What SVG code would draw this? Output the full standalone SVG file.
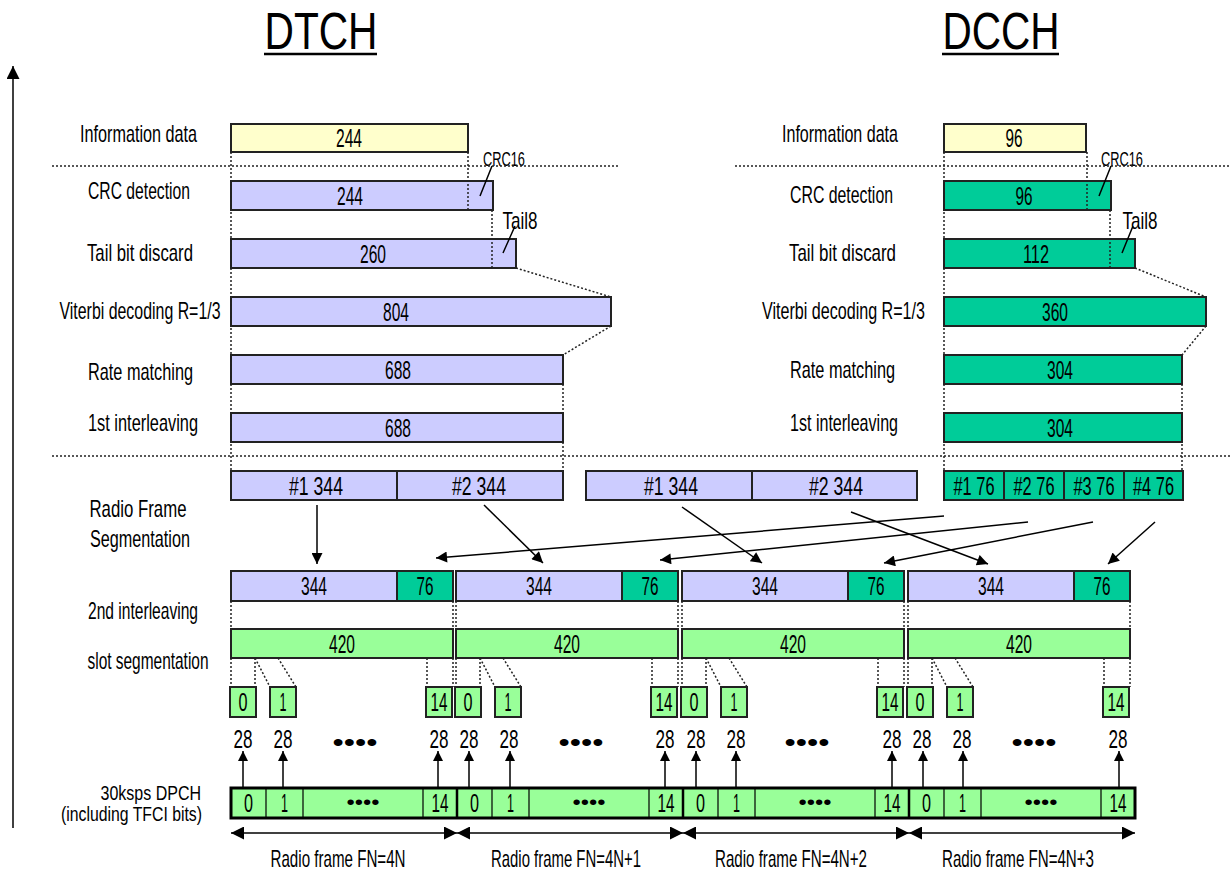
<svg xmlns="http://www.w3.org/2000/svg" width="1231" height="875" viewBox="0 0 1231 875">
<style>
text{font-family:"Liberation Sans",Arial,sans-serif;fill:#000;text-anchor:middle}
.lbl{font-size:24px}
.lb2{font-size:20px}
.num{font-size:25px}
.sm{font-size:20px}
.dt{font-size:20px}
.ttl{font-size:52px}
.end{text-anchor:end}
.box{stroke:#222;stroke-width:2}
.y{fill:#FFFFCC}
.l{fill:#CCCCFF}
.g{fill:#00CC99}
.lg{fill:#99FF99}
.dot{fill:none;stroke:#222;stroke-width:1.5;stroke-dasharray:2 2}
.ln{fill:none;stroke:#000;stroke-width:1.5}
.arr{fill:none;stroke:#000;stroke-width:1.5;marker-end:url(#ah)}
.up{fill:none;stroke:#000;stroke-width:1.5;marker-end:url(#ahs)}
.dbl{fill:none;stroke:#000;stroke-width:1.5;marker-start:url(#ahb);marker-end:url(#ahb)}
</style>
<defs>
<marker id="ah" viewBox="0 0 10 10" refX="10" refY="5" markerUnits="userSpaceOnUse" markerWidth="15" markerHeight="11" orient="auto"><path d="M0,0 L10,5 L0,10 z" fill="#000"/></marker>
<marker id="ahs" viewBox="0 0 10 10" refX="10" refY="5" markerUnits="userSpaceOnUse" markerWidth="14" markerHeight="10" orient="auto"><path d="M0,0 L10,5 L0,10 z" fill="#000"/></marker>
<marker id="ahx" viewBox="0 0 10 10" refX="10" refY="5" markerUnits="userSpaceOnUse" markerWidth="18" markerHeight="13" orient="auto"><path d="M0,0 L10,5 L0,10 z" fill="#000"/></marker>
<marker id="ahb" viewBox="0 0 10 10" refX="10" refY="5" markerUnits="userSpaceOnUse" markerWidth="14" markerHeight="13" orient="auto-start-reverse"><path d="M0,0 L10,5 L0,10 z" fill="#000"/></marker>
</defs>
<rect width="1231" height="875" fill="#fff"/>

<g id="titles">
<text class="ttl" x="321" y="49" textLength="113" lengthAdjust="spacingAndGlyphs">DTCH</text>
<line x1="264" y1="54" x2="377" y2="54" stroke="#000" stroke-width="2.5"/>
<text class="ttl" x="1001" y="49" textLength="117" lengthAdjust="spacingAndGlyphs">DCCH</text>
<line x1="942" y1="54" x2="1059" y2="54" stroke="#000" stroke-width="2.5"/>
</g>

<g id="axis">
<line x1="13" y1="828" x2="13" y2="66" stroke="#000" stroke-width="1.5" marker-end="url(#ahx)"/>
</g>

<g id="labels">
<text class="lbl" x="138.5" y="142" textLength="117" lengthAdjust="spacingAndGlyphs">Information data</text>
<text class="lbl" x="139" y="199" textLength="102" lengthAdjust="spacingAndGlyphs">CRC detection</text>
<text class="lbl" x="140" y="261" textLength="106" lengthAdjust="spacingAndGlyphs">Tail bit discard</text>
<text class="lbl" x="140" y="319" textLength="161" lengthAdjust="spacingAndGlyphs">Viterbi decoding R=1/3</text>
<text class="lbl" x="140.5" y="380" textLength="105" lengthAdjust="spacingAndGlyphs">Rate matching</text>
<text class="lbl" x="143" y="431" textLength="110" lengthAdjust="spacingAndGlyphs">1st interleaving</text>
<text class="lbl" x="138" y="517" textLength="97" lengthAdjust="spacingAndGlyphs">Radio Frame</text>
<text class="lbl" x="140" y="547" textLength="100" lengthAdjust="spacingAndGlyphs">Segmentation</text>
<text class="lbl" x="143" y="619" textLength="110" lengthAdjust="spacingAndGlyphs">2nd interleaving</text>
<text class="lbl" x="148" y="669" textLength="121" lengthAdjust="spacingAndGlyphs">slot segmentation</text>
<text class="lb2 end" transform="translate(201,800) scale(0.8,1)">30ksps DPCH</text>
<text class="lb2 end" transform="translate(202,821) scale(0.79,1)">(including TFCI bits)</text>
<text class="lbl" x="840" y="142" textLength="116" lengthAdjust="spacingAndGlyphs">Information data</text>
<text class="lbl" x="841.5" y="203" textLength="103" lengthAdjust="spacingAndGlyphs">CRC detection</text>
<text class="lbl" x="842.5" y="261" textLength="107" lengthAdjust="spacingAndGlyphs">Tail bit discard</text>
<text class="lbl" x="843.5" y="319" textLength="163" lengthAdjust="spacingAndGlyphs">Viterbi decoding R=1/3</text>
<text class="lbl" x="842.5" y="378" textLength="105" lengthAdjust="spacingAndGlyphs">Rate matching</text>
<text class="lbl" x="844" y="431" textLength="108" lengthAdjust="spacingAndGlyphs">1st interleaving</text>
</g>

<g id="dtch-chain">
<rect class="box y" x="231" y="124" width="237" height="28"/>
<text class="num" x="349" y="147" textLength="26" lengthAdjust="spacingAndGlyphs">244</text>
<rect class="box l" x="231" y="181" width="262" height="29"/>
<text class="num" x="350" y="204.5" textLength="26" lengthAdjust="spacingAndGlyphs">244</text>
<rect class="box l" x="231" y="239" width="285" height="29"/>
<text class="num" x="373" y="262.5" textLength="26" lengthAdjust="spacingAndGlyphs">260</text>
<rect class="box l" x="231" y="297" width="380" height="29"/>
<text class="num" x="396" y="320.5" textLength="26" lengthAdjust="spacingAndGlyphs">804</text>
<rect class="box l" x="231" y="355" width="332" height="29"/>
<text class="num" x="398" y="378.5" textLength="26" lengthAdjust="spacingAndGlyphs">688</text>
<rect class="box l" x="231" y="413" width="332" height="29"/>
<text class="num" x="398" y="436.5" textLength="26" lengthAdjust="spacingAndGlyphs">688</text>
<text class="sm" x="504" y="166" textLength="42" lengthAdjust="spacingAndGlyphs">CRC16</text>
<text class="lbl" x="520" y="229" textLength="35" lengthAdjust="spacingAndGlyphs">Tail8</text>
</g>

<g id="dcch-chain">
<rect class="box y" x="944" y="124" width="142" height="28"/>
<text class="num" x="1014" y="147" textLength="17" lengthAdjust="spacingAndGlyphs">96</text>
<rect class="box g" x="944" y="181" width="167" height="29"/>
<text class="num" x="1024" y="204.5" textLength="17" lengthAdjust="spacingAndGlyphs">96</text>
<rect class="box g" x="944" y="239" width="191" height="29"/>
<text class="num" x="1036" y="262.5" textLength="26" lengthAdjust="spacingAndGlyphs">112</text>
<rect class="box g" x="944" y="297" width="262" height="29"/>
<text class="num" x="1055" y="320.5" textLength="26" lengthAdjust="spacingAndGlyphs">360</text>
<rect class="box g" x="944" y="355" width="238" height="29"/>
<text class="num" x="1060" y="378.5" textLength="26" lengthAdjust="spacingAndGlyphs">304</text>
<rect class="box g" x="944" y="413" width="238" height="29"/>
<text class="num" x="1060" y="436.5" textLength="26" lengthAdjust="spacingAndGlyphs">304</text>
<text class="sm" x="1122" y="166" textLength="42" lengthAdjust="spacingAndGlyphs">CRC16</text>
<text class="lbl" x="1140" y="229" textLength="35" lengthAdjust="spacingAndGlyphs">Tail8</text>
</g>

<g id="segmentation">
<rect class="box l" x="231" y="471" width="166" height="29"/>
<rect class="box l" x="397" y="471" width="166" height="29"/>
<text class="num" x="316" y="494.5" textLength="54" lengthAdjust="spacingAndGlyphs">#1 344</text>
<text class="num" x="479" y="494.5" textLength="54" lengthAdjust="spacingAndGlyphs">#2 344</text>
<rect class="box l" x="586" y="471" width="166" height="29"/>
<rect class="box l" x="752" y="471" width="165" height="29"/>
<text class="num" x="671" y="494.5" textLength="54" lengthAdjust="spacingAndGlyphs">#1 344</text>
<text class="num" x="836" y="494.5" textLength="54" lengthAdjust="spacingAndGlyphs">#2 344</text>
<rect class="box g" x="944" y="471" width="60" height="29"/>
<rect class="box g" x="1004" y="471" width="60" height="29"/>
<rect class="box g" x="1064" y="471" width="60" height="29"/>
<rect class="box g" x="1124" y="471" width="59" height="29"/>
<text class="num" x="974" y="494.5" textLength="41" lengthAdjust="spacingAndGlyphs">#1 76</text>
<text class="num" x="1034" y="494.5" textLength="41" lengthAdjust="spacingAndGlyphs">#2 76</text>
<text class="num" x="1094" y="494.5" textLength="41" lengthAdjust="spacingAndGlyphs">#3 76</text>
<text class="num" x="1153.5" y="494.5" textLength="41" lengthAdjust="spacingAndGlyphs">#4 76</text>
</g>

<g id="frames">
<rect class="box l" x="231" y="571" width="166" height="30"/><rect class="box g" x="397" y="571" width="56" height="30"/>
<text class="num" x="314" y="595" textLength="26" lengthAdjust="spacingAndGlyphs">344</text><text class="num" x="425" y="595" textLength="17" lengthAdjust="spacingAndGlyphs">76</text>
<rect class="box l" x="456" y="571" width="166" height="30"/><rect class="box g" x="622" y="571" width="56" height="30"/>
<text class="num" x="539" y="595" textLength="26" lengthAdjust="spacingAndGlyphs">344</text><text class="num" x="650" y="595" textLength="17" lengthAdjust="spacingAndGlyphs">76</text>
<rect class="box l" x="682" y="571" width="166" height="30"/><rect class="box g" x="848" y="571" width="56" height="30"/>
<text class="num" x="765" y="595" textLength="26" lengthAdjust="spacingAndGlyphs">344</text><text class="num" x="876" y="595" textLength="17" lengthAdjust="spacingAndGlyphs">76</text>
<rect class="box l" x="908" y="571" width="166" height="30"/><rect class="box g" x="1074" y="571" width="56" height="30"/>
<text class="num" x="991" y="595" textLength="26" lengthAdjust="spacingAndGlyphs">344</text><text class="num" x="1102" y="595" textLength="17" lengthAdjust="spacingAndGlyphs">76</text>
</g>

<g id="bars420">
<rect class="box lg" x="231" y="629" width="222" height="29"/><text class="num" x="342" y="652.5" textLength="26" lengthAdjust="spacingAndGlyphs">420</text>
<rect class="box lg" x="456" y="629" width="222" height="29"/><text class="num" x="567" y="652.5" textLength="26" lengthAdjust="spacingAndGlyphs">420</text>
<rect class="box lg" x="682" y="629" width="222" height="29"/><text class="num" x="793" y="652.5" textLength="26" lengthAdjust="spacingAndGlyphs">420</text>
<rect class="box lg" x="908" y="629" width="222" height="29"/><text class="num" x="1019" y="652.5" textLength="26" lengthAdjust="spacingAndGlyphs">420</text>
</g>

<g id="slots">
<rect class="box lg" x="230" y="687" width="26" height="30"/><rect class="box lg" x="270" y="687" width="26" height="30"/><rect class="box lg" x="426" y="687" width="26" height="30"/>
<text class="num" x="243" y="711" textLength="9" lengthAdjust="spacingAndGlyphs">0</text><text class="num" x="283" y="711" textLength="7" lengthAdjust="spacingAndGlyphs">1</text><text class="num" x="439" y="711" textLength="17" lengthAdjust="spacingAndGlyphs">14</text>
<rect class="box lg" x="455" y="687" width="26" height="30"/><rect class="box lg" x="495" y="687" width="26" height="30"/><rect class="box lg" x="651" y="687" width="26" height="30"/>
<text class="num" x="468" y="711" textLength="9" lengthAdjust="spacingAndGlyphs">0</text><text class="num" x="508" y="711" textLength="7" lengthAdjust="spacingAndGlyphs">1</text><text class="num" x="664" y="711" textLength="17" lengthAdjust="spacingAndGlyphs">14</text>
<rect class="box lg" x="681" y="687" width="26" height="30"/><rect class="box lg" x="721" y="687" width="26" height="30"/><rect class="box lg" x="877" y="687" width="26" height="30"/>
<text class="num" x="694" y="711" textLength="9" lengthAdjust="spacingAndGlyphs">0</text><text class="num" x="734" y="711" textLength="7" lengthAdjust="spacingAndGlyphs">1</text><text class="num" x="890" y="711" textLength="17" lengthAdjust="spacingAndGlyphs">14</text>
<rect class="box lg" x="907" y="687" width="26" height="30"/><rect class="box lg" x="947" y="687" width="26" height="30"/><rect class="box lg" x="1103" y="687" width="26" height="30"/>
<text class="num" x="920" y="711" textLength="9" lengthAdjust="spacingAndGlyphs">0</text><text class="num" x="960" y="711" textLength="7" lengthAdjust="spacingAndGlyphs">1</text><text class="num" x="1116" y="711" textLength="17" lengthAdjust="spacingAndGlyphs">14</text>
</g>

<g id="slot-bits">
<text class="num" x="243" y="748" textLength="19" lengthAdjust="spacingAndGlyphs">28</text><text class="num" x="283" y="748" textLength="19" lengthAdjust="spacingAndGlyphs">28</text><text class="num" x="355" y="751" textLength="45" lengthAdjust="spacingAndGlyphs">••••</text><text class="num" x="439" y="748" textLength="19" lengthAdjust="spacingAndGlyphs">28</text>
<text class="num" x="469" y="748" textLength="19" lengthAdjust="spacingAndGlyphs">28</text><text class="num" x="509" y="748" textLength="19" lengthAdjust="spacingAndGlyphs">28</text><text class="num" x="581" y="751" textLength="45" lengthAdjust="spacingAndGlyphs">••••</text><text class="num" x="665" y="748" textLength="19" lengthAdjust="spacingAndGlyphs">28</text>
<text class="num" x="696" y="748" textLength="19" lengthAdjust="spacingAndGlyphs">28</text><text class="num" x="736" y="748" textLength="19" lengthAdjust="spacingAndGlyphs">28</text><text class="num" x="807" y="751" textLength="45" lengthAdjust="spacingAndGlyphs">••••</text><text class="num" x="892" y="748" textLength="19" lengthAdjust="spacingAndGlyphs">28</text>
<text class="num" x="922" y="748" textLength="19" lengthAdjust="spacingAndGlyphs">28</text><text class="num" x="962" y="748" textLength="19" lengthAdjust="spacingAndGlyphs">28</text><text class="num" x="1034" y="751" textLength="45" lengthAdjust="spacingAndGlyphs">••••</text><text class="num" x="1118" y="748" textLength="19" lengthAdjust="spacingAndGlyphs">28</text>
</g>

<g id="dpch">
<rect class="lg" x="231" y="788" width="904" height="30" stroke="#000" stroke-width="3"/>
<path d="M266 788V818M303 788V818M423 788V818M492 788V818M529 788V818M649 788V818M718 788V818M755 788V818M875 788V818M944 788V818M981 788V818M1101 788V818" stroke="#000" stroke-width="1.2"/>
<path d="M457 788V818M683 788V818M909 788V818" stroke="#000" stroke-width="2.5"/>
<text class="num" x="248.5" y="812" textLength="9" lengthAdjust="spacingAndGlyphs">0</text><text class="num" x="284.5" y="812" textLength="7" lengthAdjust="spacingAndGlyphs">1</text><text class="dt" x="363" y="809" textLength="33" lengthAdjust="spacingAndGlyphs">••••</text><text class="num" x="440" y="812" textLength="17" lengthAdjust="spacingAndGlyphs">14</text>
<text class="num" x="474.5" y="812" textLength="9" lengthAdjust="spacingAndGlyphs">0</text><text class="num" x="510.5" y="812" textLength="7" lengthAdjust="spacingAndGlyphs">1</text><text class="dt" x="589" y="809" textLength="33" lengthAdjust="spacingAndGlyphs">••••</text><text class="num" x="666" y="812" textLength="17" lengthAdjust="spacingAndGlyphs">14</text>
<text class="num" x="700.5" y="812" textLength="9" lengthAdjust="spacingAndGlyphs">0</text><text class="num" x="736.5" y="812" textLength="7" lengthAdjust="spacingAndGlyphs">1</text><text class="dt" x="815" y="809" textLength="33" lengthAdjust="spacingAndGlyphs">••••</text><text class="num" x="892" y="812" textLength="17" lengthAdjust="spacingAndGlyphs">14</text>
<text class="num" x="926.5" y="812" textLength="9" lengthAdjust="spacingAndGlyphs">0</text><text class="num" x="962.5" y="812" textLength="7" lengthAdjust="spacingAndGlyphs">1</text><text class="dt" x="1041" y="809" textLength="33" lengthAdjust="spacingAndGlyphs">••••</text><text class="num" x="1118" y="812" textLength="17" lengthAdjust="spacingAndGlyphs">14</text>
</g>

<g id="frame-labels">
<text class="lbl" x="338" y="867" textLength="135" lengthAdjust="spacingAndGlyphs">Radio frame FN=4N</text>
<text class="lbl" x="566" y="867" textLength="150" lengthAdjust="spacingAndGlyphs">Radio frame FN=4N+1</text>
<text class="lbl" x="791" y="867" textLength="152" lengthAdjust="spacingAndGlyphs">Radio frame FN=4N+2</text>
<text class="lbl" x="1018" y="867" textLength="152" lengthAdjust="spacingAndGlyphs">Radio frame FN=4N+3</text>
</g>

<g id="connectors">
<path class="dot" d="M52 166H620M735 166H1231M52 456H1231"/>
<path class="dot" d="M231 152V471M468 152V210M492 210V268M563 384V413M563 442V471M516 268L611 297M611 326L563 355"/>
<path class="dot" d="M944 152V471M1087 152V210M1110 210V268M1182 384V471M1135 268L1206 297M1206 326L1182 355"/>
<path class="dot" d="M231 601V629M453 601V629M456 601V629M678 601V629M682 601V629M904 601V629M908 601V629M1130 601V629"/>
<path class="dot" d="M231 658V687M255 658V687M255 658L270 687M278 658L296 687M427 658V687M453 658V687"/>
<path class="dot" d="M456 658V687M480 658V687M480 658L495 687M503 658L521 687M652 658V687M678 658V687"/>
<path class="dot" d="M682 658V687M706 658V687M706 658L721 687M729 658L747 687M878 658V687M904 658V687"/>
<path class="dot" d="M908 658V687M932 658V687M932 658L947 687M955 658L973 687M1104 658V687M1130 658V687"/>
<path class="ln" d="M492 166L480 196M515 226L503 253M1111 166L1099 196M1133 226L1122 253"/>
<line class="arr" x1="317" y1="505" x2="317" y2="564"/>
<line class="arr" x1="484" y1="505" x2="543" y2="563"/>
<line class="arr" x1="682" y1="507" x2="762" y2="563"/>
<line class="arr" x1="851" y1="512" x2="988" y2="564"/>
<line class="arr" x1="944" y1="516" x2="436" y2="558"/>
<line class="arr" x1="1028" y1="522" x2="660" y2="560"/>
<line class="arr" x1="1093" y1="522" x2="884" y2="563"/>
<line class="arr" x1="1155" y1="522" x2="1108" y2="564"/>
<line class="up" x1="243" y1="788" x2="243" y2="751"/>
<line class="up" x1="283" y1="788" x2="283" y2="751"/>
<line class="up" x1="438" y1="788" x2="438" y2="751"/>
<line class="up" x1="469" y1="788" x2="469" y2="751"/>
<line class="up" x1="510" y1="788" x2="510" y2="751"/>
<line class="up" x1="665" y1="788" x2="665" y2="751"/>
<line class="up" x1="696" y1="788" x2="696" y2="751"/>
<line class="up" x1="736" y1="788" x2="736" y2="751"/>
<line class="up" x1="892" y1="788" x2="892" y2="751"/>
<line class="up" x1="923" y1="788" x2="923" y2="751"/>
<line class="up" x1="963" y1="788" x2="963" y2="751"/>
<line class="up" x1="1119" y1="788" x2="1119" y2="751"/>
<line class="dbl" x1="231" y1="833" x2="457" y2="833"/>
<line class="dbl" x1="457" y1="833" x2="683" y2="833"/>
<line class="dbl" x1="683" y1="833" x2="909" y2="833"/>
<line class="dbl" x1="909" y1="833" x2="1135" y2="833"/>
</g>
</svg>
